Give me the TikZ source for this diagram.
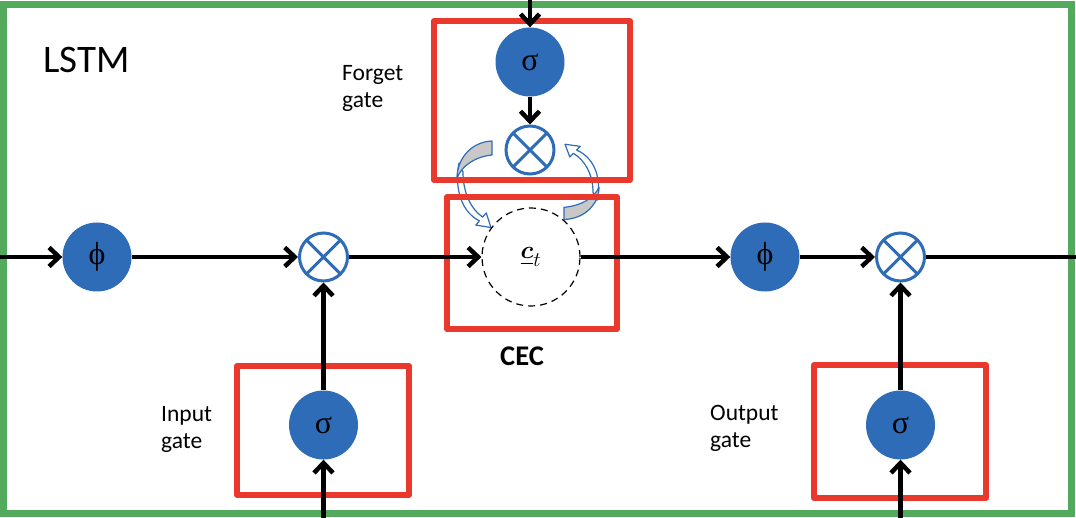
\documentclass[tikz,border=0pt]{standalone}
\usepackage{amsmath}
\usepackage{amssymb}
\usepackage{bm}
\usepackage{fontspec}
\setmainfont{Carlito}
\newfontfamily\symb{Liberation Serif}
\usetikzlibrary{arrows.meta}
\definecolor{gatered}{RGB}{233,57,44}
\definecolor{cellgreen}{RGB}{84,170,92}
\definecolor{unitblue}{RGB}{46,108,184}
\definecolor{curlgray}{RGB}{200,200,200}

\begin{document}
\begin{tikzpicture}[x=1pt, y=-1pt,
  >={Straight Barb[length=10pt,width=19pt]},
  unit/.style={circle, fill=unitblue, minimum size=69pt, inner sep=0pt,
    font=\symb\fontsize{32}{32}\selectfont},
  mult/.style={circle, draw=unitblue, line width=3pt, fill=white, minimum size=48pt, inner sep=0pt,
    path picture={\draw[unitblue, line width=3pt]
      (path picture bounding box.north west) -- (path picture bounding box.south east)
      (path picture bounding box.north east) -- (path picture bounding box.south west);}},
  gatebox/.style={draw=gatered, line width=6pt, line join=round},
  flow/.style={line width=4.5pt, black},
  curl/.style={draw=unitblue, line width=1.2pt, line join=round},
  lbl/.style={font=\fontsize{23.5}{27}\selectfont, align=left, inner sep=0pt, anchor=north west}]

  \useasboundingbox (0,0) rectangle (1076,518);

  \newcommand\Ym{257};

  \draw[line width=7pt, cellgreen] (3.5,4.5) rectangle (1071,513);

  %% feedback curls round the forget product
  \draw[curl, fill=white] (459,163) .. controls (455,182) and (458,210) .. (479.4,220.9)
    -- (475.8,225.1) -- (491,227.5) -- (486.2,212.9) -- (482.6,217.1)
    .. controls (471,209) and (463,193) .. (463,172) -- cycle;
  \draw[curl, fill=curlgray] (492,141) .. controls (470,142) and (457,160) .. (457,178)
    .. controls (462,166) and (474,157) .. (492,155) -- cycle;
  \begin{scope}[shift={(1056,342.2)}, xscale=-1, yscale=-0.87]
    \draw[curl, fill=white] (459,163) .. controls (455,182) and (458,210) .. (479.4,220.9)
      -- (475.8,225.1) -- (491,227.5) -- (486.2,212.9) -- (482.6,217.1)
      .. controls (471,209) and (463,193) .. (463,172) -- cycle;
    \draw[curl, fill=curlgray] (492,141) .. controls (470,142) and (457,160) .. (457,178)
      .. controls (462,166) and (474,157) .. (492,155) -- cycle;
  \end{scope}

  \draw[gatebox] (434,21) rectangle (630,180);  %% forget
  \draw[gatebox] (447,197) rectangle (617,329);  %% CEC
  \draw[gatebox] (237,366) rectangle (409,495);  %% input
  \draw[gatebox] (814,365) rectangle (986,498);  %% output

  \node[unit] (phiin) at (97,\Ym) {ϕ};
  \node[mult] (xin) at (323.5,\Ym) {};
  \node[circle, draw, dash pattern=on 7pt off 5pt, line width=1.2pt, minimum size=98pt, inner sep=0pt,
    font=\fontsize{32}{32}\selectfont] (cec) at (531,\Ym) {$\underline{\bm{c}}_t$};
  \node[unit] (phiout) at (765,\Ym) {ϕ};
  \node[mult] (xout) at (900.5,\Ym) {};
  \node[unit] (sigf) at (530,62) {σ};
  \node[mult] (xf) at (530,150) {};
  \node[unit] (sigi) at (323.5,425) {σ};
  \node[unit] (sigo) at (900.5,425) {σ};

  \coordinate (xleft) at (0,\Ym);
  \coordinate (xright) at (1076,\Ym);
  \coordinate (ftop) at (530,0);
  \coordinate (ibot) at (323.5,518);
  \coordinate (obot) at (900.5,518);

  \draw[flow,->] (xleft) -- (phiin);
  \draw[flow,->] (phiin) -- (xin);  %% phi->in
  \draw[flow,->] (xin) -- (cec);  %% in->cec
  \draw[flow,->] (cec) -- (phiout);  %% cec->phi
  \draw[flow,->] (phiout) -- (xout);  %% phi->out
  \draw[flow] (xout) -- (xright);
  \draw[flow,->] (ftop) -- (sigf);
  \draw[flow,->] (sigf) -- (xf);
  \draw[flow,->] (ibot) -- (sigi);
  \draw[flow,->] (sigi) -- (xin);
  \draw[flow,->] (obot) -- (sigo);
  \draw[flow,->] (sigo) -- (xout);

  \node[anchor=base west, inner sep=0pt, font=\fontsize{39}{39}\selectfont] (lstm) at (43,73) {LSTM};
  \node[lbl] (forgetlbl) at (342,65) {Forget\\gate};
  \node[lbl] (inputlbl) at (161,406) {Input\\gate};
  \node[lbl] (outputlbl) at (710,405) {Output\\gate};
  \node[anchor=base, inner sep=0pt, font=\bfseries\fontsize{28.5}{28.5}\selectfont] (ceclbl) at (522,366) {CEC};
\end{tikzpicture}
\end{document}
